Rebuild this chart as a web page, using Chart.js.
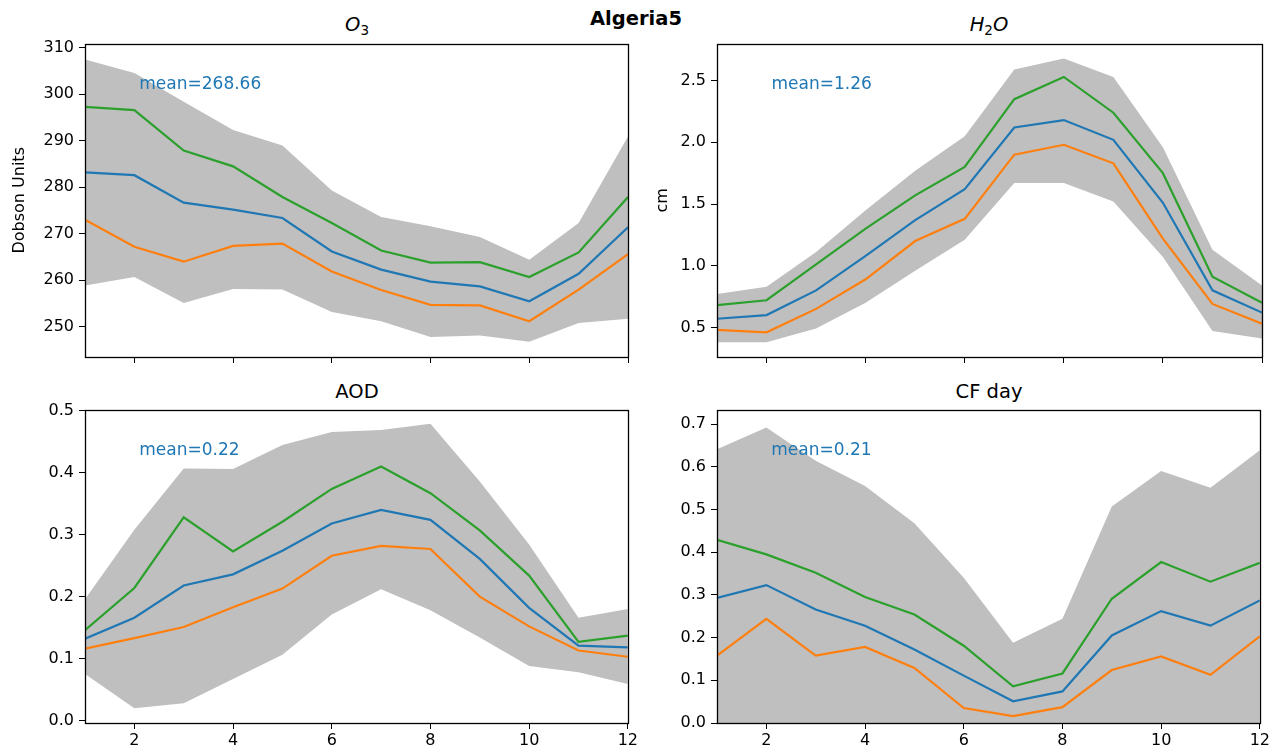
<!DOCTYPE html>
<html>
<head>
<meta charset="utf-8">
<script src="https://cdn.jsdelivr.net/npm/chart.js@4.4.0/dist/chart.umd.min.js"></script>
<style>
body { margin: 0; background: #fff; width: 1270px; height: 753px; overflow: hidden; position: relative; font-family: "DejaVu Sans", sans-serif; }
canvas { position: absolute; }
.t { position: absolute; font-size: 19.5px; line-height: 1; color: #000; transform: translateX(-50%); white-space: nowrap; }
.t sub { font-size: 13.5px; vertical-align: -4px; font-style: normal; }
</style>
</head>
<body>
<div class="t" style="left:636px;top:9px;font-weight:bold">Algeria5</div>
<div class="t" style="left:357px;top:15px"><i>O</i><sub>3</sub></div>
<div class="t" style="left:989px;top:15px"><i>H</i><sub>2</sub><i>O</i></div>
<div class="t" style="left:357px;top:382px">AOD</div>
<div class="t" style="left:989px;top:382px">CF day</div>

<canvas id="o3" width="632" height="358" style="left:8px;top:29px"></canvas>
<canvas id="h2o" width="621" height="358" style="left:651px;top:29px"></canvas>
<canvas id="aod" width="632" height="358" style="left:8px;top:395px"></canvas>
<canvas id="cf" width="621" height="358" style="left:651px;top:395px"></canvas>

<script>
// === Datos ===
const meses = [1, 2, 3, 4, 5, 6, 7, 8, 9, 10, 11, 12];
const xTicks = [2, 4, 6, 8, 10, 12];

const o3Max = [307.5, 304.6, 298.4, 292.3, 289.0, 279.3, 273.6, 271.6, 269.3, 264.4, 272.3, 290.9];
const o3Min = [258.9, 260.7, 255.1, 258.1, 258.0, 253.2, 251.2, 247.8, 248.1, 246.8, 250.8, 251.7];
const o3Alto = [297.3, 296.6, 287.9, 284.5, 277.9, 272.3, 266.4, 263.8, 263.9, 260.7, 266.0, 277.9];
const o3Media = [283.2, 282.6, 276.7, 275.2, 273.4, 266.2, 262.3, 259.7, 258.7, 255.5, 261.4, 271.4];
const o3Bajo = [273.0, 267.2, 264.0, 267.4, 267.9, 261.9, 257.9, 254.7, 254.6, 251.2, 258.0, 265.6];
const o3Ticks = [250, 260, 270, 280, 290, 300, 310];

const h2oMax = [0.77, 0.83, 1.11, 1.45, 1.77, 2.05, 2.59, 2.68, 2.53, 1.96, 1.13, 0.84];
const h2oMin = [0.38, 0.38, 0.49, 0.70, 0.96, 1.21, 1.67, 1.67, 1.52, 1.07, 0.47, 0.41];
const h2oAlto = [0.68, 0.72, 1.01, 1.30, 1.57, 1.80, 2.35, 2.53, 2.24, 1.75, 0.91, 0.70];
const h2oMedia = [0.57, 0.60, 0.80, 1.08, 1.37, 1.62, 2.12, 2.18, 2.02, 1.51, 0.80, 0.62];
const h2oBajo = [0.48, 0.46, 0.65, 0.89, 1.20, 1.38, 1.90, 1.98, 1.83, 1.22, 0.69, 0.53];
const h2oTicks = [0.5, 1.0, 1.5, 2.0, 2.5];

const aodMax = [0.196, 0.308, 0.407, 0.406, 0.445, 0.466, 0.469, 0.479, 0.386, 0.284, 0.166, 0.180];
const aodMin = [0.075, 0.020, 0.028, 0.067, 0.106, 0.171, 0.212, 0.178, 0.134, 0.088, 0.078, 0.059];
const aodAlto = [0.146, 0.214, 0.328, 0.273, 0.321, 0.374, 0.410, 0.367, 0.307, 0.234, 0.127, 0.137];
const aodMedia = [0.132, 0.166, 0.218, 0.236, 0.274, 0.318, 0.340, 0.324, 0.261, 0.182, 0.121, 0.118];
const aodBajo = [0.116, 0.133, 0.151, 0.183, 0.213, 0.266, 0.282, 0.277, 0.200, 0.152, 0.113, 0.103];
const aodTicks = [0.0, 0.1, 0.2, 0.3, 0.4, 0.5];

const cfMax = [0.641, 0.692, 0.614, 0.555, 0.468, 0.340, 0.188, 0.244, 0.507, 0.590, 0.551, 0.639];
const cfMin = [0, 0, 0, 0, 0, 0, 0, 0, 0, 0, 0, 0];
const cfAlto = [0.429, 0.395, 0.352, 0.295, 0.254, 0.181, 0.086, 0.116, 0.291, 0.377, 0.331, 0.375];
const cfMedia = [0.293, 0.323, 0.266, 0.228, 0.172, 0.111, 0.051, 0.074, 0.205, 0.262, 0.228, 0.287];
const cfBajo = [0.158, 0.244, 0.158, 0.178, 0.129, 0.035, 0.016, 0.037, 0.124, 0.156, 0.113, 0.203];
const cfTicks = [0.0, 0.1, 0.2, 0.3, 0.4, 0.5, 0.6, 0.7];

const fuente = { family: 'DejaVu Sans', size: 16 };

// marco completo + texto de la media
const marco = {
    id: 'marco',
    afterDraw(chart) {
        const a = chart.chartArea;
        const c = chart.ctx;
        c.save();
        c.strokeStyle = '#000';
        c.lineWidth = 1.3;
        c.strokeRect(Math.round(a.left) + 0.5, Math.round(a.top) + 0.5,
            Math.round(a.right - a.left), Math.round(a.bottom - a.top));
        const txt = chart.options.plugins.marco.texto;
        c.fillStyle = '#1f77b4';
        c.font = '17px "DejaVu Sans"';
        c.textBaseline = 'middle';
        c.fillText(txt, a.left + 0.1 * (a.right - a.left), a.top + 0.13 * (a.bottom - a.top));
        c.restore();
    }
};

const xy = (arr) => arr.map((v, i) => ({ x: meses[i], y: v }));

function panel(id, cfg) {
    const lineas = [
        { data: xy(cfg.alto), borderColor: '#2ca02c' },
        { data: xy(cfg.media), borderColor: '#1f77b4' },
        { data: xy(cfg.bajo), borderColor: '#ff7f0e' }
    ].map(d => ({ ...d, borderWidth: 2.2, pointRadius: 0, tension: 0, fill: false }));

    return new Chart(document.getElementById(id), {
        type: 'line',
        data: {
            datasets: [
                ...lineas,
                { data: xy(cfg.max), borderWidth: 0, pointRadius: 0, backgroundColor: '#bfbfbf', fill: '+1' },
                { data: xy(cfg.min), borderWidth: 0, pointRadius: 0, fill: false }
            ]
        },
        options: {
            responsive: false,
            animation: false,
            layout: { padding: { top: 5, right: cfg.right, bottom: 0, left: 0 } },
            plugins: {
                legend: { display: false },
                tooltip: { enabled: false },
                filler: { drawTime: 'beforeDatasetsDraw' },
                marco: { texto: cfg.texto }
            },
            scales: {
                x: {
                    type: 'linear', min: 1, max: 12,
                    afterBuildTicks: s => { s.ticks = xTicks.map(v => ({ value: v })); },
                    afterFit: s => { s.height = 30; },
                    grid: { drawOnChartArea: false, drawTicks: true, tickLength: 6, color: '#000' },
                    border: { display: false },
                    ticks: { color: '#000', font: fuente, padding: 2, maxRotation: 0,
                        callback: v => cfg.conX ? String(v) : '' }
                },
                y: {
                    min: cfg.ymin, max: cfg.ymax,
                    afterBuildTicks: s => { s.ticks = cfg.yTicks.map(v => ({ value: v })); },
                    afterFit: s => { s.width = cfg.yAncho; },
                    grid: { drawOnChartArea: false, drawTicks: true, tickLength: 6, color: '#000' },
                    border: { display: false },
                    ticks: { color: '#000', font: fuente, padding: 5,
                        callback: v => cfg.dec ? v.toFixed(cfg.dec) : String(v) },
                    title: { display: !!cfg.ytitulo, text: cfg.ytitulo, color: '#000', font: fuente, padding: { top: 2, bottom: 0 } }
                }
            }
        },
        plugins: [marco]
    });
}

panel('o3', { max: o3Max, min: o3Min, alto: o3Alto, media: o3Media, bajo: o3Bajo, yTicks: o3Ticks,
    ymin: 243.5, ymax: 310.9, dec: 0, yAncho: 77, right: 12, ytitulo: 'Dobson Units', texto: 'mean=268.66', conX: false });
panel('h2o', { max: h2oMax, min: h2oMin, alto: h2oAlto, media: h2oMedia, bajo: h2oBajo, yTicks: h2oTicks,
    ymin: 0.26, ymax: 2.80, dec: 1, yAncho: 66, right: 10, ytitulo: 'cm', texto: 'mean=1.26', conX: false });
panel('aod', { max: aodMax, min: aodMin, alto: aodAlto, media: aodMedia, bajo: aodBajo, yTicks: aodTicks,
    ymin: -0.004, ymax: 0.502, dec: 1, yAncho: 77, right: 12, ytitulo: '', texto: 'mean=0.22', conX: true });
panel('cf', { max: cfMax, min: cfMin, alto: cfAlto, media: cfMedia, bajo: cfBajo, yTicks: cfTicks,
    ymin: 0, ymax: 0.734, dec: 1, yAncho: 66, right: 10, ytitulo: '', texto: 'mean=0.21', conX: true });
</script>
</body>
</html>
